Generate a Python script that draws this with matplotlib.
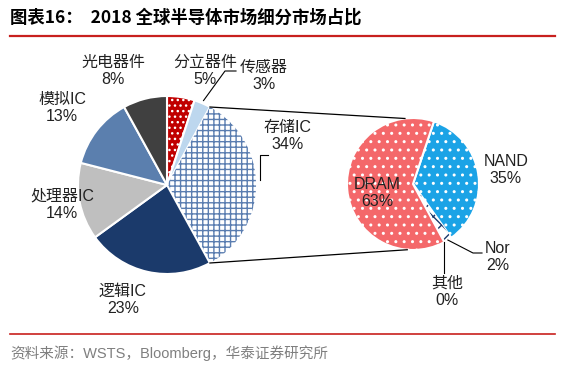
import matplotlib
matplotlib.use('Agg')
import matplotlib.pyplot as plt
import numpy as np

plt.rcParams['font.family'] = ['Liberation Sans', 'Noto Sans CJK SC']
plt.rcParams['hatch.linewidth'] = 1.0

W, H = 567, 371

# data
seg_labels = ['分立器件', '传感器', '存储IC', '逻辑IC', '处理器IC', '模拟IC', '光电器件']
seg_share = [5, 3, 34, 23, 14, 13, 8]
mem_labels = ['NAND', 'Nor', '其他', 'DRAM']
mem_share = [35, 2, 0, 63]

seg_colors = ['#C00000', '#BDD7EE', '#5A7DB0', '#1B3A6B', '#BFBFBF', '#5B7FAE', '#404040']
seg_hatch = ['...', '', '+++', '', '', '', '']
mem_colors = ['#1BA3E6', '#FFFFFF', '#FFFFFF', '#F4686A']
mem_hatch = ['..', 'xx', '', '..']


def P(x, y):
    # pixel coords (top-left origin) -> data coords
    return (x, H - y)


fig = plt.figure(figsize=(W / 100, H / 100), dpi=100)
ax = fig.add_axes([0, 0, 1, 1])

# left pie
c1 = P(167, 185)
r1 = 89
wedges1, _ = ax.pie(seg_share, startangle=90, counterclock=False, center=c1,
                    radius=r1, explode=[0, 0, 0.04, 0, 0, 0, 0], frame=True,
                    wedgeprops=dict(linewidth=1.5, edgecolor='white'))
for w, col, h in zip(wedges1, seg_colors, seg_hatch):
    if h == '+++':
        w.set_facecolor('white')
        w.set_edgecolor(col)
        w.set_linewidth(0)
    else:
        w.set_facecolor(col)
    w.set_hatch(h)

# right pie
c2 = P(413, 184)
r2 = 66
wedges2, _ = ax.pie(mem_share, startangle=71.5, counterclock=False, center=c2,
                    radius=r2, frame=True,
                    wedgeprops=dict(linewidth=1.5, edgecolor='white'))
for w, col, h, lab in zip(wedges2, mem_colors, mem_hatch, mem_labels):
    w.set_facecolor(col)
    w.set_hatch(h)
    if lab == 'Nor':
        w.set_edgecolor('#1B3A6B')
        w.set_linewidth(0)


def edge_pt(wedge, ang, rr=None):
    cx, cy = wedge.center
    rr = wedge.r if rr is None else rr
    a = np.deg2rad(ang)
    return cx + rr * np.cos(a), cy + rr * np.sin(a)


# connecting lines from storage slice to right pie
st = wedges1[2]
p_top = edge_pt(st, st.theta2)
p_bot = edge_pt(st, st.theta1)
q_top = edge_pt(wedges2[0], 97, r2)
q_bot = edge_pt(wedges2[0], -95, r2)
ax.plot([p_top[0], q_top[0]], [p_top[1], q_top[1]], color='black', lw=0.9)
ax.plot([p_bot[0], q_bot[0]], [p_bot[1], q_bot[1]], color='black', lw=0.9)

# leader lines
s = wedges1[1]
sp = edge_pt(s, (s.theta1 + s.theta2) / 2, r1 + 3)
ax.plot([sp[0], 225, 236], [sp[1], H - 71, H - 71], color='black', lw=0.8)

sp = edge_pt(st, 3, r1 + 4)
ax.plot([sp[0], sp[0], sp[0] + 8], [sp[1], H - 155, H - 155], color='black', lw=0.8)

nor = wedges2[1]
sp = edge_pt(nor, (nor.theta1 + nor.theta2) / 2, r2)
ax.plot([sp[0], 473, 482], [sp[1], H - 253, H - 253], color='black', lw=0.8)

oth = wedges2[2]
sp = edge_pt(oth, oth.theta1, r2)
ax.plot([sp[0], sp[0]], [sp[1], H - 273], color='black', lw=0.8)

# labels
fs = 11.5
lab_pos = [(205, 71), (264, 76), (288, 136), (123, 300), (62, 205), (62, 108), (113, 71)]
for name, v, (x, y) in zip(seg_labels, seg_share, lab_pos):
    ax.text(*P(x, y), f'{name}\n{v}%', ha='center', va='center', fontsize=fs,
            linespacing=1.2, color='#222222')

mem_pos = [(506, 170), (498, 257), (447, 292), (377, 193)]
for name, v, (x, y) in zip(mem_labels, mem_share, mem_pos):
    ax.text(*P(x, y), f'{name}\n{v}%', ha='center', va='center', fontsize=fs,
            linespacing=1.2, color='#222222')

# title, rules, source
ax.text(*P(10, 18), '图表16：  2018 全球半导体市场细分市场占比', ha='left', va='center',
        fontsize=12.5, fontweight='bold', family=['Noto Sans CJK SC'])
ax.plot([10, 555], [H - 36, H - 36], color='#C8201E', lw=1.6)
ax.plot([10, 555], [H - 334, H - 334], color='#C8201E', lw=1.2)
ax.text(*P(10, 353), '资料来源：WSTS，Bloomberg，华泰证券研究所', ha='left', va='center',
        fontsize=10.5, color='#7F7F7F')

ax.set_xlim(0, W)
ax.set_ylim(0, H)
ax.set_aspect('equal')
ax.axis('off')

fig.savefig('out.png', dpi=100)
